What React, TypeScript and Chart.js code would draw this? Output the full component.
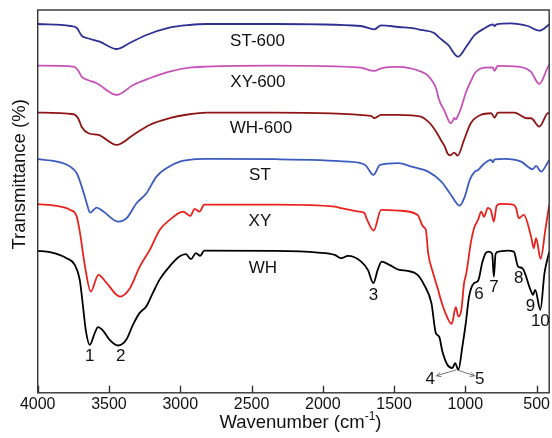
import React, { useEffect, useRef } from 'react';
import { Chart, registerables } from 'chart.js';

Chart.register(...registerables);

// Wavenumber axis (cm-1), reversed
const xMax = 4000;
const xMin = 412;
const xTickValues = [4000, 3500, 3000, 2500, 2000, 1500, 1000, 500];

// Stacked (offset) transmittance, arbitrary units
const yMin = 0;
const yMax = 383;

const seriesNames = ['ST-600', 'XY-600', 'WH-600', 'ST', 'XY', 'WH'];
const seriesColors = ['#2E3192', '#C652B8', '#8E1616', '#3C5BBE', '#E8231F', '#000000'];

// [wavenumber, offset transmittance]
const ST600 = [
  [4000, 369], [3772, 367], [3725, 365], [3690, 357], [3656, 355], [3565, 351.3], [3446, 344],
  [3355, 350], [3237, 358], [3076, 365.3], [2936, 368], [2818, 369], [2336, 369], [1735, 367],
  [1638, 363.7], [1591, 367.7], [1470, 366], [1358, 364.7], [1310, 363], [1219, 360], [1191, 356.3],
  [1121, 348], [1051, 336.3], [995, 346], [934, 358], [865, 364.7], [807, 368.7], [795, 367],
  [781, 368.7], [681, 369.7], [562, 367], [481, 362.3], [423, 367.3], [412, 369],
];
const XY600 = [
  [4000, 327.3], [3749, 326.3], [3714, 322], [3690, 316], [3649, 313], [3586, 309.7], [3446, 298],
  [3330, 308], [3216, 314.7], [3076, 321.3], [2936, 325.3], [2818, 326.3], [2336, 327.3], [1735, 325.3],
  [1638, 322], [1591, 324.7], [1470, 326], [1310, 321.3], [1268, 318], [1198, 301.3], [1191, 296.3],
  [1144, 281.3], [1102, 269.7], [1085, 273], [1079, 275], [1067, 273.5], [1056, 276], [1030, 285],
  [995, 301], [962, 311.5], [934, 319.7], [865, 325.3], [807, 325.5], [795, 322], [779, 326.3],
  [772, 327], [632, 326.3], [541, 321.3], [481, 309], [423, 325.3], [412, 328],
];
const WH600 = [
  [4000, 280.3], [3749, 278.7], [3714, 274], [3691, 266], [3644, 259.7], [3574, 258], [3446, 248],
  [3330, 258], [3216, 268], [3076, 274.7], [2936, 278.7], [2818, 280.3], [2336, 280.3], [1661, 277],
  [1638, 274.7], [1591, 278], [1470, 278], [1312, 276.3], [1261, 271.3], [1238, 268], [1191, 258],
  [1172, 253], [1144, 246.3], [1126, 239.7], [1105, 237.5], [1079, 240.3], [1054, 237.3], [1009, 253],
  [962, 269.7], [893, 278], [819, 279.7], [795, 275.3], [772, 280.3], [655, 280.3], [567, 274.7],
  [539, 274.7], [481, 266.3], [423, 279.7], [412, 280],
];
const ST = [
  [4000, 233.7], [3865, 231.3], [3772, 226.3], [3726, 219.7], [3691, 206.3], [3656, 189.7], [3633, 180.3],
  [3586, 185.3], [3539, 181.3], [3434, 171.3], [3376, 174.7], [3307, 189.7], [3237, 199.7], [3167, 216.3],
  [3097, 224.7], [3004, 231.3], [2888, 233.7], [2818, 234], [2336, 233.7], [1819, 231.3], [1703, 228],
  [1645, 218], [1598, 228], [1470, 229.7], [1377, 226.3], [1261, 221.3], [1168, 211.3], [1109, 199.7],
  [1039, 187.3], [1004, 196.3], [969, 213], [934, 221.3], [911, 223], [865, 229.7], [819, 233],
  [807, 230.5], [795, 233.5], [725, 234], [609, 231.3], [527, 223.7], [504, 227], [469, 221.3], [412, 233],
];
const XY = [
  [4000, 188.7], [3865, 187], [3772, 183], [3726, 176.3], [3703, 159.7], [3668, 126.3], [3628, 101.3],
  [3574, 118], [3516, 109.7], [3423, 96.3], [3353, 104.7], [3284, 126.3], [3214, 143], [3144, 163],
  [3074, 173], [2980, 181.3], [2929, 177], [2899, 184], [2865, 181.3], [2832, 188.3], [2336, 188.3],
  [1917, 186.3], [1868, 184.7], [1749, 181.3], [1707, 179.7], [1694, 174.7], [1643, 162.3], [1591, 183],
  [1470, 182.3], [1335, 178], [1296, 166.3], [1277, 163], [1261, 139.7], [1226, 119.7], [1191, 103],
  [1172, 93], [1144, 81.3], [1096, 69], [1067, 85.7], [1049, 76.3], [1028, 83], [1009, 109.7],
  [993, 119.7], [962, 149.7], [939, 164.7], [911, 173], [888, 181.3], [870, 176], [842, 185],
  [822, 183], [800, 171.3], [781, 187], [753, 189], [660, 188], [644, 184.7], [625, 174.7], [590, 178],
  [539, 156.3], [520, 144.7], [504, 154.7], [472, 134], [439, 163], [412, 188],
];
const WH = [
  [4000, 142], [3914, 140.7], [3797, 134.7], [3740, 128], [3705, 113], [3682, 86.3], [3663, 63],
  [3635, 48], [3600, 59.7], [3577, 65.7], [3542, 62.3], [3495, 53], [3437, 47.3], [3379, 53],
  [3332, 68], [3286, 79.7], [3239, 86.3], [3193, 99.7], [3146, 113], [3076, 126.3], [3006, 136.3],
  [2960, 138.7], [2925, 133.7], [2890, 139.7], [2860, 137], [2832, 142.3], [2336, 142], [2034, 140.3],
  [1917, 138], [1870, 134.7], [1824, 137], [1731, 131.3], [1684, 123], [1645, 109.7], [1615, 123],
  [1587, 131.3], [1533, 128], [1463, 123], [1405, 122], [1335, 118], [1289, 108], [1238, 89.7],
  [1207, 59.7], [1184, 56.3], [1161, 41.3], [1126, 28], [1091, 24.7], [1072, 29.7], [1049, 23],
  [1021, 46.3], [997, 69.7], [974, 96.3], [939, 109.7], [911, 112], [880, 131], [858, 139.7],
  [835, 141.3], [812, 139], [800, 116.3], [788, 139], [765, 141.3], [707, 142.3], [660, 141.3],
  [630, 126.3], [600, 124.7], [543, 103], [525, 98], [510, 103], [474, 83], [445, 119.7], [412, 141],
];
const seriesData = [ST600, XY600, WH600, ST, XY, WH];

// Text annotations anchored in data coordinates
const curveLabelText = ['ST-600', 'XY-600', 'WH-600', 'ST', 'XY', 'WH'];
const curveLabelWn = [2458, 2455, 2434, 2441, 2441, 2420];
const curveLabelT = [352, 311, 264.7, 218, 171.3, 124.7];

const peakLabelText = ['1', '2', '3', '4', '5', '6', '7', '8', '9', '10'];
const peakLabelWn = [3635, 3418, 1645, 1247, 900, 904, 800, 625, 543, 474];
const peakLabelT = [36.3, 36.3, 98, 13, 13, 99, 105.7, 114.7, 87, 71.3];

// arrows [fromWn, fromT, toWn, toT]
const arrows = [
  [1063, 23, 1203, 17],
  [1046, 22.3, 935, 17],
];

const FONT = '"Liberation Sans", Arial, Helvetica, sans-serif';

const decorPlugin = {
  id: 'decor',
  afterDraw(chart: any) {
    const { ctx, chartArea: a, scales } = chart;
    const x = scales.x;
    const y = scales.y;
    ctx.save();
    // frame
    ctx.strokeStyle = '#333333';
    ctx.lineWidth = 1.4;
    ctx.strokeRect(a.left, a.top, a.right - a.left, a.bottom - a.top);
    // inward ticks
    ctx.beginPath();
    xTickValues.forEach((v) => {
      const px = Math.round(x.getPixelForValue(v)) + 0.5;
      ctx.moveTo(px, a.bottom);
      ctx.lineTo(px, a.bottom - 7);
    });
    ctx.stroke();

    ctx.fillStyle = '#111111';
    // curve labels
    ctx.font = `17px ${FONT}`;
    ctx.textAlign = 'center';
    ctx.textBaseline = 'middle';
    curveLabelText.forEach((t, i) => {
      ctx.fillText(t, x.getPixelForValue(curveLabelWn[i]), y.getPixelForValue(curveLabelT[i]));
    });
    // peak labels
    peakLabelText.forEach((t, i) => {
      ctx.fillText(t, x.getPixelForValue(peakLabelWn[i]), y.getPixelForValue(peakLabelT[i]));
    });
    // arrows
    ctx.strokeStyle = '#666666';
    ctx.fillStyle = '#666666';
    ctx.lineWidth = 0.9;
    arrows.forEach(([fw, ft, tw, tt]) => {
      const x0 = x.getPixelForValue(fw);
      const y0 = y.getPixelForValue(ft);
      const x1 = x.getPixelForValue(tw);
      const y1 = y.getPixelForValue(tt);
      ctx.beginPath();
      ctx.moveTo(x0, y0);
      ctx.lineTo(x1, y1);
      ctx.stroke();
      const ang = Math.atan2(y1 - y0, x1 - x0);
      const L = 5;
      ctx.beginPath();
      ctx.moveTo(x1 - L * Math.cos(ang - 0.45), y1 - L * Math.sin(ang - 0.45));
      ctx.lineTo(x1, y1);
      ctx.lineTo(x1 - L * Math.cos(ang + 0.45), y1 - L * Math.sin(ang + 0.45));
      ctx.stroke();
    });

    // x title with superscript
    ctx.fillStyle = '#111111';
    ctx.textAlign = 'left';
    ctx.textBaseline = 'alphabetic';
    const mainFont = `18.5px ${FONT}`;
    const supFont = `12px ${FONT}`;
    const t1 = 'Wavenumber (cm';
    const t2 = '-1';
    const t3 = ')';
    ctx.font = mainFont;
    const w1 = ctx.measureText(t1).width;
    const w3 = ctx.measureText(t3).width;
    ctx.font = supFont;
    const w2 = ctx.measureText(t2).width;
    const cx = (a.left + a.right) / 2 + 7;
    const base = a.bottom + 35;
    let sx = cx - (w1 + w2 + w3) / 2;
    ctx.font = mainFont;
    ctx.fillText(t1, sx, base);
    sx += w1;
    ctx.font = supFont;
    ctx.fillText(t2, sx, base - 8);
    sx += w2;
    ctx.font = mainFont;
    ctx.fillText(t3, sx, base);

    // y title
    ctx.save();
    ctx.translate(25, (a.top + a.bottom) / 2 - 27);
    ctx.rotate(-Math.PI / 2);
    ctx.textAlign = 'center';
    ctx.font = `18.5px ${FONT}`;
    ctx.fillText('Transmittance (%)', 0, 0);
    ctx.restore();

    ctx.restore();
  },
};

export default function App() {
  const ref = useRef<HTMLCanvasElement | null>(null);

  useEffect(() => {
    document.body.style.margin = '0';
    const canvas = ref.current;
    if (!canvas) return;
    const chart = new Chart(canvas, {
      type: 'line',
      data: {
        datasets: seriesNames.map((name, i) => ({
          label: name,
          data: seriesData[i].map(([wx, ty]) => ({ x: wx, y: ty })),
          borderColor: seriesColors[i],
          backgroundColor: seriesColors[i],
          borderWidth: 1.8,
          pointRadius: 0,
          fill: false,
          cubicInterpolationMode: 'monotone' as const,
        })),
      },
      options: {
        animation: false,
        responsive: false,
        devicePixelRatio: 1,
        layout: { padding: { left: 37.7, right: 0.7, top: 10, bottom: 22 } },
        plugins: { legend: { display: false }, tooltip: { enabled: false } },
        scales: {
          x: {
            type: 'linear',
            reverse: true,
            min: xMin,
            max: xMax,
            afterBuildTicks: (scale: any) => {
              scale.ticks = xTickValues.map((v) => ({ value: v }));
            },
            grid: { display: false, drawTicks: false },
            border: { display: false },
            ticks: {
              autoSkip: false,
              maxRotation: 0,
              padding: 2,
              color: '#111111',
              font: { size: 16, family: FONT },
              callback: (v: any) => String(v),
            },
          },
          y: {
            display: false,
            min: yMin,
            max: yMax,
          },
        },
      },
      plugins: [decorPlugin],
    });
    return () => chart.destroy();
  }, []);

  return <canvas ref={ref} width={552} height={438} style={{ display: 'block' }} />;
}
